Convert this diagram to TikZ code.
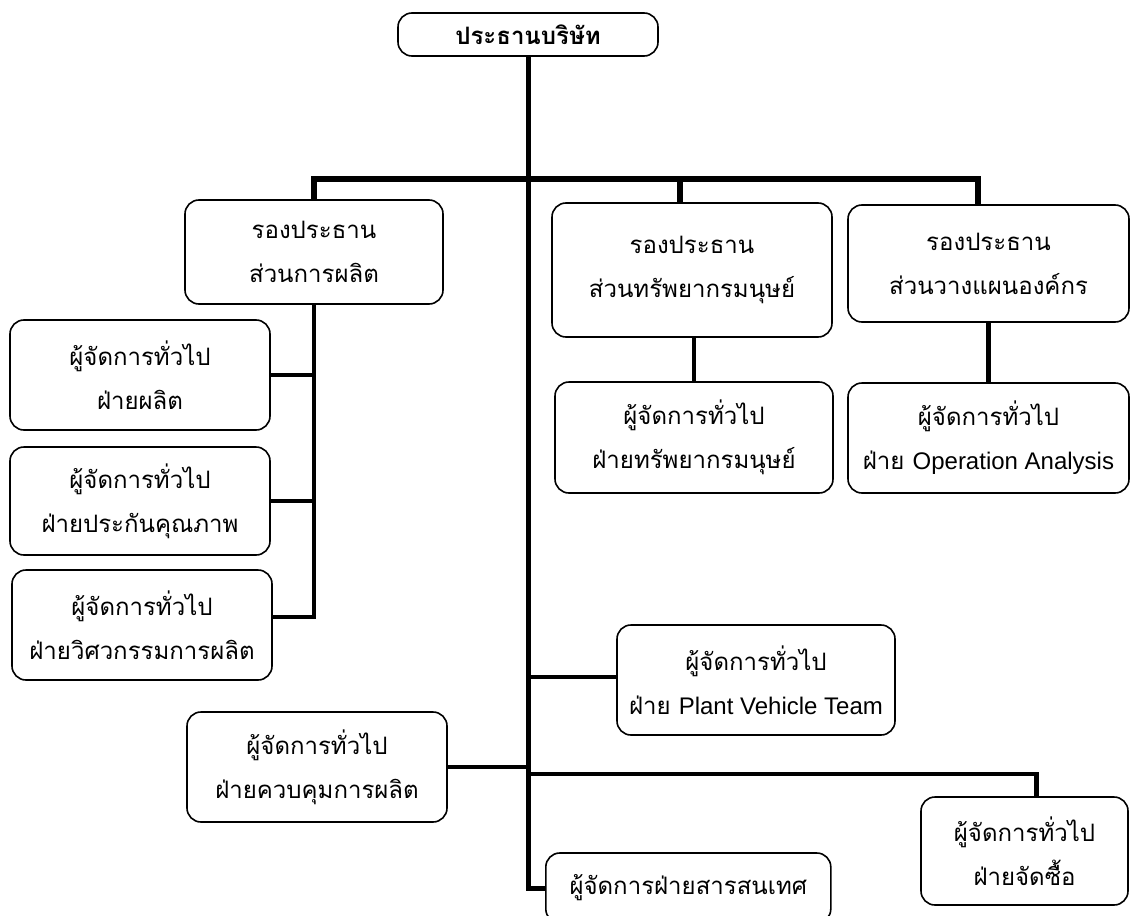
\documentclass[tikz,border=0pt]{standalone}
\usepackage{fontspec}
\newfontfamily\thaifont[Script=Thai]{Loma}
\newfontfamily\latf{Liberation Sans}
\begin{document}
\begin{tikzpicture}[x=1pt,y=-1pt,
  box/.style={draw, line width=1.6pt, rounded corners=14pt, align=center, inner sep=0pt,
    font=\thaifont\fontsize{24}{44}\selectfont},
  trunkline/.style={line width=5pt},
  barline/.style={line width=6pt},
  conn/.style={line width=4.5pt}]
\fill[white] (0,0) rectangle (1131,915);
\useasboundingbox (0,0) rectangle (1131,915);
\begin{scope}
\clip (0,0) rectangle (1131,915);
% nodes
\node[box, minimum width=260pt, minimum height=43pt, font=\thaifont\bfseries\fontsize{24}{44}\selectfont] (pres) at (528,34.5) {ประธานบริษัท};
\node[box, minimum width=258pt, minimum height=104pt] (vp1) at (314,252) {รองประธาน\\ส่วนการผลิต};
\node[box, minimum width=260pt, minimum height=110pt] (gm1) at (140,375) {ผู้จัดการทั่วไป\\ฝ่ายผลิต};
\node[box, minimum width=260pt, minimum height=108pt] (gm2) at (140,501) {ผู้จัดการทั่วไป\\ฝ่ายประกันคุณภาพ};
\node[box, minimum width=260pt, minimum height=110pt] (gm3) at (142,625) {ผู้จัดการทั่วไป\\ฝ่ายวิศวกรรมการผลิต};
\node[box, minimum width=280pt, minimum height=134pt] (vp2) at (692,270) {รองประธาน\\ส่วนทรัพยากรมนุษย์};
\node[box, minimum width=278pt, minimum height=111pt] (gmhr) at (694,437.5) {ผู้จัดการทั่วไป\\ฝ่ายทรัพยากรมนุษย์};
\node[box, minimum width=281pt, minimum height=117pt] (vp3) at (988.5,263.5) {รองประธาน\\ส่วนวางแผนองค์กร};
\node[box, minimum width=281pt, minimum height=110pt] (gmoa) at (988.5,438) {ผู้จัดการทั่วไป\\ฝ่าย {\latf Operation Analysis}};
\node[box, minimum width=278pt, minimum height=110pt] (pv) at (756,680) {ผู้จัดการทั่วไป\\ฝ่าย {\latf Plant Vehicle Team}};
\node[box, minimum width=260pt, minimum height=110pt] (gmc) at (317,767) {ผู้จัดการทั่วไป\\ฝ่ายควบคุมการผลิต};
\node[box, minimum width=207pt, minimum height=108pt] (pur) at (1024.5,851) {ผู้จัดการทั่วไป\\ฝ่ายจัดซื้อ};
\node[box, minimum width=285pt, minimum height=70pt, anchor=west] (info) at (545,888) {};
\node[font=\thaifont\fontsize{24}{44}\selectfont] (infot) at (info.center) {ผู้จัดการฝ่ายสารสนเทศ};
% helper coordinates
\coordinate (tk) at (529,0);
\coordinate (bar) at (529,179);
\coordinate (rbar) at (529,774);
\coordinate (g3c) at ([yshift=8pt]gm3.east);
\coordinate (pvc) at ([yshift=3pt]pv.west);
% trunk
\draw[trunkline] (pres.south) |- (info.west);
% top bar and drops
\draw[barline] (vp1.north) |- (bar);
\draw[barline] (bar) -| ([xshift=-12pt]vp2.north);
\draw[barline] (bar) -| ([xshift=-11pt]vp3.north);
% VP1 branch
\draw[conn] (vp1.south) -- (vp1.south |- g3c) -- (g3c);
\draw[conn] (gm1.east) -- (gm1.east -| vp1.south);
\draw[conn] (gm2.east) -- (gm2.east -| vp1.south);
% VP2, VP3 branches
\draw[conn] (gmhr.north |- vp2.south) -- (gmhr.north);
\draw[conn] (vp3.south) -- (gmoa.north);
% trunk branches
\draw[conn] (pvc) -- (pvc -| tk);
\draw[conn] (gmc.east) -- (gmc.east -| tk);
\draw[conn] (rbar) -| ([xshift=12pt]pur.north);
\end{scope}
\end{tikzpicture}
\end{document}
